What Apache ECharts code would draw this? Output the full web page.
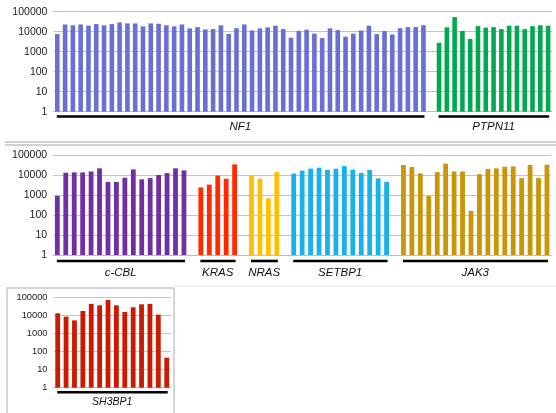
<!DOCTYPE html>
<html><head><meta charset="utf-8">
<script src="https://cdn.jsdelivr.net/npm/echarts@6/dist/echarts.min.js"></script>
<style>html,body{margin:0;padding:0;background:#fff}#c{width:556px;height:413px}</style>
</head><body><div id="c"></div>
<script>
// ---- data (log scale) ----
const yTicks = [1, 10, 100, 1000, 10000, 100000];
const nf1 = [7600,23000,21000,23000,20000,24000,21000,24000,29000,26000,26000,18500,26000,25000,21000,18500,23000,14700,17000,13000,13500,21000,7600,15000,23000,11500,14700,16500,20000,13500,5000,11000,12500,8000,4800,14700,12000,5600,8000,11500,20000,7600,10800,7300,15000,17000,17000,21000];
const ptpn11 = [2800,16500,54000,10800,4300,19000,16000,17000,13500,20000,20000,13500,19000,21000,20000];
const ccbl = [900,13000,13500,13500,15000,21500,4500,4500,7300,19000,6100,7000,10000,12500,21500,17000];
const kras = [2400,3300,9300,6500,34000];
const nras = [10000,6500,680,14000];
const setbp1 = [11700,16500,20700,23300,17800,20700,28000,18500,12700,17800,6800,4500];
const jak3 = [31600,25000,12000,900,14000,37000,15000,15000,160,11000,20000,21500,26000,27000,7000,31600,7000,33000];
const sh3bp1 = [13000,8500,5300,17500,43000,36000,71000,36000,15500,28000,41000,43000,11000,46];

const panels = [
  { groups: [{name:'NF1', data:nf1, color:'#6a6fd6'}, {name:'PTPN11', data:ptpn11, color:'#00a84f'}],
    grid: {left:53.4, width:498.6, top:11.7, height:100}, fontSize:10.5, barWidth:4.6 },
  { groups: [{name:'c-CBL', data:ccbl, color:'#7030a0'}, {name:'KRAS', data:kras, color:'#ff2a00'},
             {name:'NRAS', data:nras, color:'#ffc000'}, {name:'SETBP1', data:setbp1, color:'#1ab0ea'},
             {name:'JAK3', data:jak3, color:'#c9960a'}],
    grid: {left:53.1, width:498.1, top:155, height:100}, fontSize:10.5, barWidth:4.8 },
  { groups: [{name:'SH3BP1', data:sh3bp1, color:'#cc1a00'}],
    grid: {left:53.5, width:117.4, top:297.3, height:90.4}, fontSize:9.3, barWidth:4.8 }
];

const grids = [], xAxes = [], yAxes = [], series = [];
const ranges = [];
panels.forEach((p, pi) => {
  const cats = [];
  const rg = [];
  p.groups.forEach((g, gi) => {
    if (gi > 0) cats.push('gap' + pi + '_' + gi);
    const start = cats.length;
    g.data.forEach((v, i) => cats.push(g.name + '_' + i));
    rg.push({name: g.name, start, end: cats.length - 1, cats});
  });
  ranges.push(rg);
  grids.push(Object.assign({containLabel:false}, p.grid));
  xAxes.push({type:'category', gridIndex:pi, data:cats, boundaryGap:true,
    axisLine:{show:true, lineStyle:{color:'#bdbdbd', width:1}}, axisTick:{show:false}, axisLabel:{show:false}, splitLine:{show:false}});
  yAxes.push({type:'log', logBase:10, gridIndex:pi, min:1, max:100000,
    axisLine:{show:false}, axisTick:{show:false},
    splitLine:{show:true, lineStyle:{color:'#c4c4c4', width:1}},
    axisLabel:{margin:6, color:'#222', fontSize:p.fontSize, fontFamily:'Liberation Sans, Arial, sans-serif',
      formatter: v => String(Math.round(v))}});
  p.groups.forEach((g, gi) => {
    const arr = cats.map(() => '-');
    g.data.forEach((v, i) => { arr[rg[gi].start + i] = v; });
    series.push({type:'bar', name:g.name, xAxisIndex:pi, yAxisIndex:pi, data:arr,
      barWidth:p.barWidth, barGap:'-100%', itemStyle:{color:g.color}, silent:true, animation:false});
  });
});

const chart = echarts.init(document.getElementById('c'), null, {renderer:'canvas'});
chart.setOption({animation:false, grid:grids, xAxis:xAxes, yAxis:yAxes, series:series});

// annotations derived from axes
const gfx = [];
// panel separators / frames
gfx.push({type:'line', shape:{x1:5, y1:142, x2:556, y2:142}, style:{stroke:'#c2c2c2', lineWidth:1.5}});
gfx.push({type:'line', shape:{x1:5, y1:145, x2:556, y2:145}, style:{stroke:'#c2c2c2', lineWidth:1.5}});
gfx.push({type:'line', shape:{x1:174, y1:286, x2:556, y2:286}, style:{stroke:'#e6e6e6', lineWidth:1}});
gfx.push({type:'rect', shape:{x:7, y:288, width:167, height:135}, style:{fill:'none', stroke:'#c8c8c8', lineWidth:1.5}, z:-1});

const lineOff = [4.8, 6, 4.5], labOff = [15, 18, 14];
ranges.forEach((rg, pi) => {
  rg.forEach(r => {
    const a = chart.convertToPixel({gridIndex:pi}, [r.cats[r.start], 1]);
    const b = chart.convertToPixel({gridIndex:pi}, [r.cats[r.end], 1]);
    const y = a[1];
    gfx.push({type:'line', shape:{x1:a[0] - 0.5, y1:y + lineOff[pi], x2:b[0] + 1, y2:y + lineOff[pi]},
      style:{stroke:'#000', lineWidth:2.6}});
    gfx.push({type:'text', x:(a[0] + b[0]) / 2, y:y + labOff[pi],
      style:{text:r.name, fill:'#111', fontSize: pi === 2 ? 10.5 : 11.5, fontStyle:'italic',
        fontFamily:'Liberation Sans, Arial, sans-serif', align:'center', verticalAlign:'middle'}});
  });
});
chart.setOption({graphic:gfx});
</script></body></html>
